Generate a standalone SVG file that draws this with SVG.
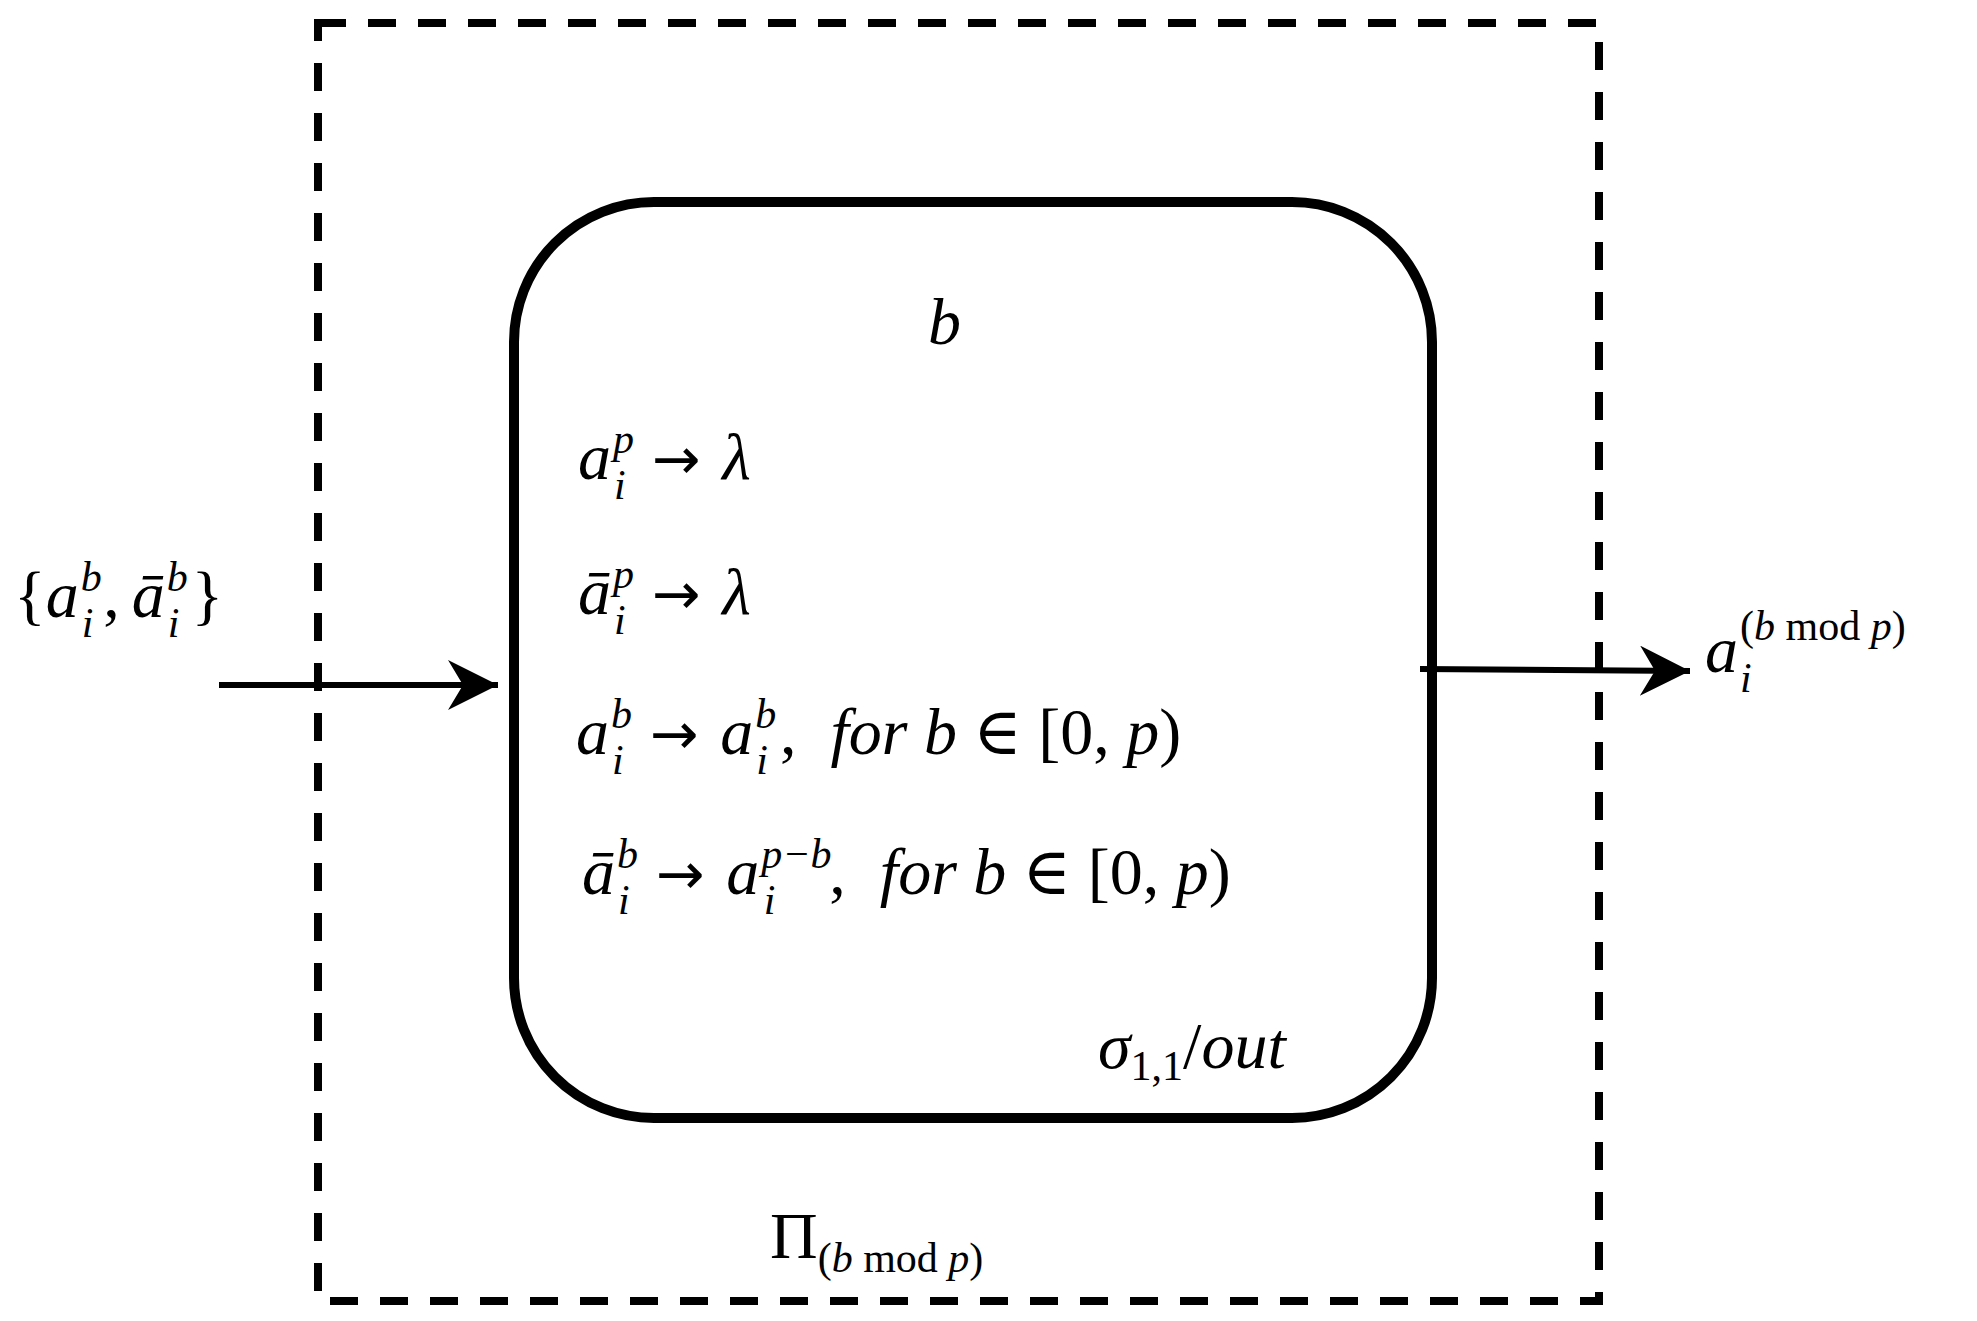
<svg xmlns="http://www.w3.org/2000/svg" width="1977" height="1321" viewBox="0 0 1977 1321">
<style>
text{font-family:"Liberation Serif","DejaVu Serif",serif;font-size:66px;fill:#000}
.i{font-style:italic}
.s{font-size:42px}
.ar{font-family:"DejaVu Sans",sans-serif;font-size:58px}
</style>
<defs><marker id="a" viewBox="0 0 10 10" refX="10" refY="5" markerWidth="60" markerHeight="50" markerUnits="userSpaceOnUse" orient="auto"><path d="M0,0 L10,5 L0,10 L3,5 z"/></marker></defs>
<g id="env"><rect x="318" y="23" width="1281" height="1278" fill="none" stroke="#000" stroke-width="8" stroke-dasharray="28,22"/>
<text x="770" y="1258">Π<tspan class="s" dy="14">(<tspan class="i">b</tspan> mod <tspan class="i">p</tspan>)</tspan></text></g>
<g id="membrane"><rect x="514" y="202" width="918" height="916" rx="140" fill="none" stroke="#000" stroke-width="10"/>
<text class="i" x="928" y="344">b</text>
<text x="578" y="479"><tspan class="i">a</tspan><tspan class="s i" dx="2" dy="-26">p</tspan><tspan class="s i" dx="-20" dy="46">i</tspan><tspan class="ar" dx="26" dy="-20">→</tspan><tspan class="i" dx="22">λ</tspan></text>
<text x="578" y="614"><tspan class="i">ā</tspan><tspan class="s i" dx="2" dy="-26">p</tspan><tspan class="s i" dx="-20" dy="46">i</tspan><tspan class="ar" dx="26" dy="-20">→</tspan><tspan class="i" dx="22">λ</tspan></text>
<text x="576" y="754"><tspan class="i">a</tspan><tspan class="s i" dx="2" dy="-26">b</tspan><tspan class="s i" dx="-20" dy="46">i</tspan><tspan class="ar" dx="26" dy="-20">→</tspan><tspan class="i" dx="22">a</tspan><tspan class="s i" dx="2" dy="-26">b</tspan><tspan class="s i" dx="-20" dy="46">i</tspan><tspan dx="12" dy="-20">,</tspan><tspan class="i" dx="34">for b</tspan><tspan dx="16">∈ [0, </tspan><tspan class="i">p</tspan>)</text>
<text x="582" y="894"><tspan class="i">ā</tspan><tspan class="s i" dx="2" dy="-26">b</tspan><tspan class="s i" dx="-20" dy="46">i</tspan><tspan class="ar" dx="26" dy="-20">→</tspan><tspan class="i" dx="22">a</tspan><tspan class="s i" dx="2" dy="-26">p−b</tspan><tspan class="s i" dx="-68" dy="46">i</tspan><tspan dx="54" dy="-20">,</tspan><tspan class="i" dx="34">for b</tspan><tspan dx="16">∈ [0, </tspan><tspan class="i">p</tspan>)</text>
<text x="1098" y="1068"><tspan class="i">σ</tspan><tspan class="s" dy="12">1,1</tspan><tspan dy="-12">/<tspan class="i">out</tspan></tspan></text></g>
<g id="input"><text x="14" y="617">{<tspan class="i">a</tspan><tspan class="s i" dx="2" dy="-26">b</tspan><tspan class="s i" dx="-20" dy="46">i</tspan><tspan dx="10" dy="-20">,</tspan><tspan class="i" dx="12">ā</tspan><tspan class="s i" dx="2" dy="-26">b</tspan><tspan class="s i" dx="-20" dy="46">i</tspan><tspan dx="12" dy="-20">}</tspan></text></g>
<g id="output"><text x="1705" y="672"><tspan class="i">a</tspan><tspan class="s" dx="2" dy="-32">(<tspan class="i">b</tspan> mod <tspan class="i">p</tspan>)</tspan><tspan class="s i" x="1740" dy="52">i</tspan></text></g>
<g id="connectors" stroke="#000" stroke-width="6" fill="none">
<line x1="219" y1="685" x2="498" y2="685" marker-end="url(#a)"/>
<line x1="1420" y1="669" x2="1690" y2="671" marker-end="url(#a)"/>
</g>
</svg>
